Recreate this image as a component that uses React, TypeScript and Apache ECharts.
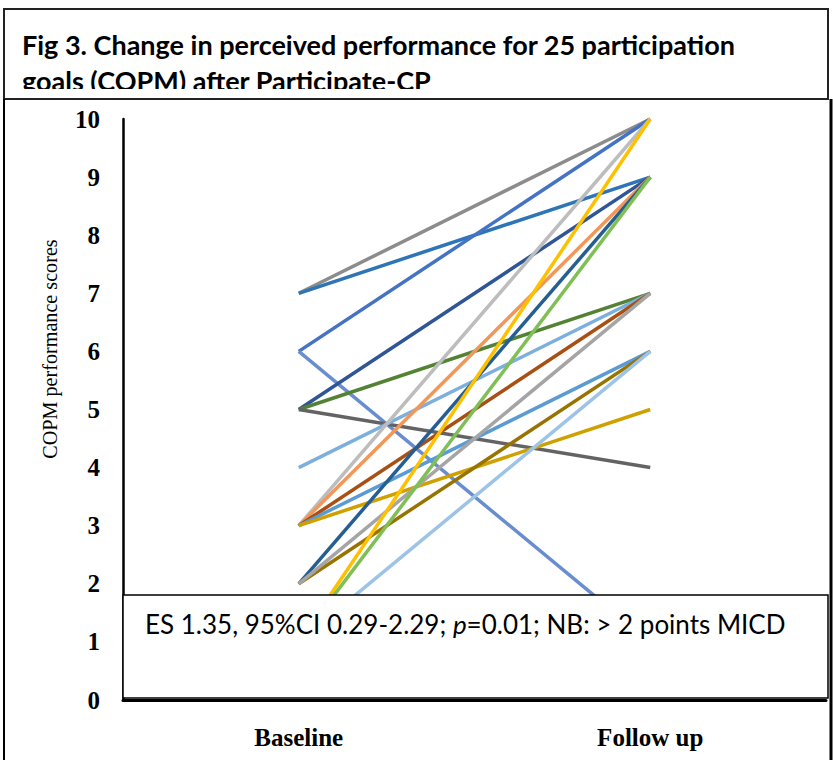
import React, { useEffect, useRef } from "react";
import * as echarts from "echarts";

const categories = ["Baseline", "Follow up"];
const yTicks = [0, 1, 2, 3, 4, 5, 6, 7, 8, 9, 10];

// each goal: [baseline, follow up]
const goalBaseline = [7, 7, 6, 6, 5, 5, 5, 4, 3, 3, 3, 3, 3, 2, 2, 2, 1, 1, 1];
const goalFollowUp = [10, 9, 10, 1, 9, 7, 4, 7, 10, 9, 7, 6, 5, 9, 6, 7, 10, 9, 6];
const goalColors = [
  "#8C8C8C", "#2E75B6", "#4472C4", "#698ED0", "#2F5597", "#548235", "#636363",
  "#7CAFDD", "#BDBDBD", "#F1975A", "#A84F14", "#5B9BD5", "#CFA000", "#255E91",
  "#997300", "#A5A5A5", "#FFC000", "#7FBF55", "#9DC3E6",
];

const titleLine1 = "Fig 3. Change in perceived performance for 25 participation";
const titleLine2 = "goals (COPM) after Participate-CP";
const yAxisName = "COPM performance scores";
const noteA = "ES 1.35, 95%CI 0.29-2.29; ";
const noteP = "p";
const noteB = "=0.01; NB: > 2 points MICD";

export default function App() {
  const ref = useRef<HTMLDivElement>(null);
  useEffect(() => {
    if (!ref.current) return;
    const chart = echarts.init(ref.current, null, { renderer: "svg" });
    const series = goalBaseline.map((b, i) => ({
      type: "line",
      data: [b, goalFollowUp[i]],
      symbol: "none",
      lineStyle: { width: 3.5, color: goalColors[i] },
      itemStyle: { color: goalColors[i] },
      z: 2,
    }));
    const option: any = {
      animation: false,
      backgroundColor: "#ffffff",
      grid: { left: 123, top: 119, right: 7, bottom: 60, containLabel: false },
      xAxis: {
        type: "category",
        data: categories,
        boundaryGap: true,
        axisLine: { show: true, lineStyle: { color: "#000", width: 3 } },
        axisTick: { show: false },
        axisLabel: {
          margin: 25,
          color: "#000",
          fontFamily: "Liberation Serif",
          fontWeight: "bold",
          fontSize: 25,
        },
        splitLine: { show: false },
      },
      yAxis: {
        type: "value",
        min: 0,
        max: 10,
        interval: 1,
        axisLine: { show: true, lineStyle: { color: "#000", width: 2.5 } },
        axisTick: { show: false },
        splitLine: { show: false },
        axisLabel: {
          margin: 23,
          color: "#000",
          fontFamily: "Liberation Serif",
          fontWeight: "bold",
          fontSize: 25,
          formatter: (v: number) => (yTicks.includes(v) ? String(v) : ""),
        },
      },
      series,
      graphic: [
        // title text
        {
          type: "text",
          left: 22,
          top: 31,
          z: 50,
          style: {
            text: titleLine1,
            font: "bold 27px Lato",
            fill: "#000",
          },
        },
        {
          type: "text",
          left: 22,
          top: 67,
          z: 50,
          style: {
            text: titleLine2,
            font: "bold 27px Lato",
            fill: "#000",
          },
        },
        // clip lower part of title line 2
        {
          type: "rect",
          z: 60,
          shape: { x: 6, y: 89, width: 820, height: 9 },
          style: { fill: "#fff" },
        },
        // title box
        {
          type: "rect",
          z: 70,
          shape: { x: 4, y: 9, width: 824, height: 90 },
          style: { fill: "none", stroke: "#222", lineWidth: 2 },
        },
        // outer lower frame
        {
          type: "line",
          z: 70,
          shape: { x1: 4, y1: 99, x2: 4, y2: 760 },
          style: { stroke: "#000", lineWidth: 2 },
        },
        {
          type: "line",
          z: 70,
          shape: { x1: 831, y1: 99, x2: 831, y2: 760 },
          style: { stroke: "#000", lineWidth: 3 },
        },
        // y axis name
        {
          type: "text",
          x: 50,
          y: 349,
          rotation: Math.PI / 2,
          scaleX: 0.96,
          z: 50,
          style: {
            text: yAxisName,
            font: "21px Liberation Serif",
            fill: "#000",
            align: "center",
            verticalAlign: "middle",
          },
        },
        // annotation box
        {
          type: "rect",
          z: 80,
          shape: { x: 123, y: 595, width: 705, height: 103 },
          style: { fill: "#fff", stroke: "#000", lineWidth: 1.5 },
        },
        {
          type: "text",
          left: 145,
          top: 611,
          z: 90,
          style: {
            text: `{a|${noteA}}{i|${noteP}}{a|${noteB}}`,
            rich: {
              a: { font: "26px Lato", fill: "#000" },
              i: { font: "italic 26px Lato", fill: "#000" },
            },
          },
        },
      ],
    };
    chart.setOption(option);
    return () => chart.dispose();
  }, []);
  return (
    <div
      ref={ref}
      style={{ position: "fixed", left: 0, top: 0, width: 833, height: 760 }}
    />
  );
}
